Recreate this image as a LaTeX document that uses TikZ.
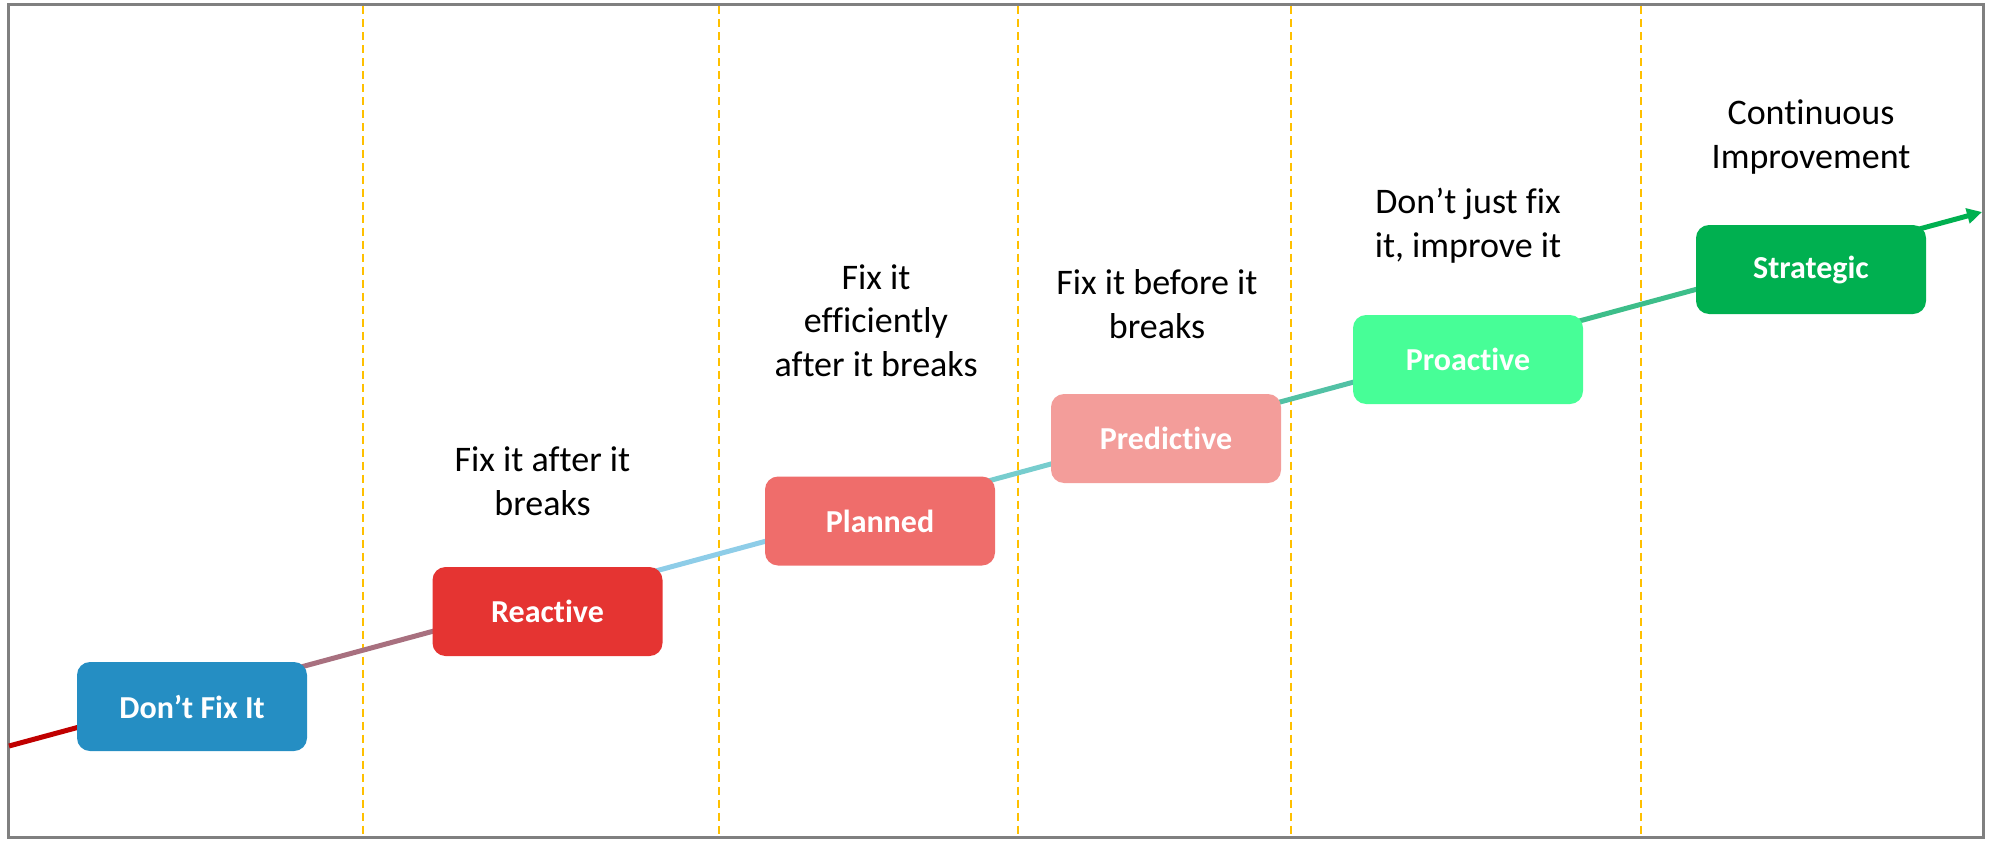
\documentclass[tikz,border=0pt]{standalone}
\usepackage{fontspec}
\setmainfont{Carlito}[Ligatures=NoCommon]
\usetikzlibrary{calc, arrows.meta}

\definecolor{frameGray}{HTML}{808080}
\definecolor{sepGold}{HTML}{FFC000}
\definecolor{boxBlue}{HTML}{258EC3}
\definecolor{boxRed}{HTML}{E53432}
\definecolor{boxCoral}{HTML}{EF6D6B}
\definecolor{boxPink}{HTML}{F39D9A}
\definecolor{boxMint}{HTML}{47FE97}
\definecolor{boxGreen}{HTML}{00B050}
\definecolor{lineRed}{HTML}{C00000}
\definecolor{lineMauve}{HTML}{A8707F}
\definecolor{lineSky}{HTML}{8ECDE8}
\definecolor{lineTeal}{HTML}{77CDCE}
\definecolor{lineSea}{HTML}{52C1A5}
\definecolor{lineJade}{HTML}{3DBE8A}

\begin{document}
\begin{tikzpicture}[x=0.5pt, y=-0.5pt,
    >={Triangle[length=7.5pt, width=7.5pt]},
    sepline/.style={sepGold, line width=0.8pt, dash pattern=on 4pt off 2.5pt},
    trend/.style={line width=2.5pt},
    stage/.style={rounded corners=6.5pt, minimum width=115pt, minimum height=44.5pt,
        inner sep=0pt, text=white, font=\fontsize{16}{19}\selectfont\bfseries},
    caption/.style={align=center, anchor=base, inner sep=0pt,
        font=\fontsize{18}{21.6}\selectfont}]

    % Parameters
    \def\xL{8}
    \def\xR{1983}
    \def\yT{4.5}
    \def\yB{837}

    % Canvas and frame
    \useasboundingbox (0,0) rectangle (1990,840);
    \draw[frameGray, line width=1.5pt] (\xL,\yT) rectangle (\xR,\yB);

    % Dashed stage separators
    \foreach \xs in {363, 719, 1018, 1291, 1641}
        \draw[sepline] (\xs, \yT+2) -- (\xs, \yB-1);

    % Growth line ends
    \coordinate (start) at (9, 746);
    \coordinate (end)   at (1982, 212);

    % Break points (hidden under the boxes)
    \coordinate (k1) at ($(start)!0.093!(end)$);
    \coordinate (k2) at ($(start)!0.273!(end)$);
    \coordinate (k3) at ($(start)!0.441!(end)$);
    \coordinate (k4) at ($(start)!0.586!(end)$);
    \coordinate (k5) at ($(start)!0.740!(end)$);
    \coordinate (k6) at ($(start)!0.913!(end)$);

    % Coloured pieces of the line
    \draw[trend, lineRed]   (start) -- (k1);
    \draw[trend, lineMauve] (k1) -- (k2);
    \draw[trend, lineSky]   (k2) -- (k3);
    \draw[trend, lineTeal]  (k3) -- (k4);
    \draw[trend, lineSea]   (k4) -- (k5);
    \draw[trend, lineJade]  (k5) -- (k6);
    \draw[trend, boxGreen, ->] (k6) -- (end);

    % Stage boxes
    \node[stage, fill=boxBlue]  (dontfix)    at (192, 706.5)  {Don’t Fix It};
    \node[stage, fill=boxRed]   (reactive)   at (547.5, 611.5) {Reactive};
    \node[stage, fill=boxCoral] (planned)    at (880, 521)    {Planned};
    \node[stage, fill=boxPink]  (predictive) at (1166, 438.5) {Predictive};
    \node[stage, fill=boxMint]  (proactive)  at (1468, 359.5) {Proactive};
    \node[stage, fill=boxGreen] (strategic)  at (1811, 269.5) {Strategic};

    % Stage descriptions (base = last line)
    \node[caption] (reactiveTxt)   at (542.5, 515) {Fix it after it\\breaks};
    \node[caption] (plannedTxt)    at (876, 376)   {Fix it\\efficiently\\after it breaks};
    \node[caption] (predictiveTxt) at (1157, 338)  {Fix it before it\\breaks};
    \node[caption] (proactiveTxt)  at (1468, 257)  {Don’t just fix\\it, improve it};
    \node[caption] (strategicTxt)  at (1811, 168)  {Continuous\\Improvement};

\end{tikzpicture}
\end{document}
